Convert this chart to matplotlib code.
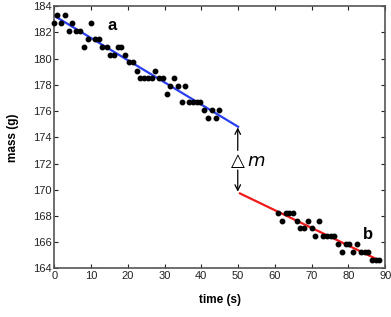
import numpy as np
import matplotlib
matplotlib.use('Agg')
import matplotlib.pyplot as plt

# Segment a (before the change)
t_a = [0.0, 0.8, 1.8, 2.9, 4.0, 4.9, 5.9, 7.0, 8.0, 9.1, 10.1, 11.1, 12.2, 13.1,
       14.2, 15.2, 16.2, 17.3, 18.2, 19.3, 20.3, 21.3, 22.4, 23.3, 24.4, 25.4,
       26.5, 27.5, 28.6, 29.6, 30.6, 31.6, 32.6, 33.6, 34.7, 35.6, 36.7, 37.7,
       38.7, 39.7, 40.7, 41.7, 42.8, 43.9, 44.9]
m_a = [182.68, 183.31, 182.68, 183.31, 182.09, 182.68, 182.09, 182.09, 180.90,
       181.48, 182.68, 181.48, 181.48, 180.90, 180.90, 180.30, 180.30, 180.90,
       180.90, 180.30, 179.70, 179.70, 179.07, 178.50, 178.50, 178.50, 178.50,
       179.07, 178.50, 178.50, 177.30, 177.90, 178.50, 177.90, 176.70, 177.90,
       176.70, 176.70, 176.70, 176.70, 176.07, 175.50, 176.07, 175.50, 176.07]

# Segment b (after the change)
t_b = [60.8, 61.9, 62.9, 63.9, 65.0, 66.0, 66.9, 68.0, 69.0, 70.1, 71.0, 72.1,
       73.1, 74.1, 75.2, 76.2, 77.2, 78.3, 79.3, 80.3, 81.3, 82.3, 83.4, 84.4,
       85.4, 86.4, 87.5, 88.4]
m_b = [168.25, 167.64, 168.25, 168.25, 168.25, 167.64, 167.06, 167.06, 167.64,
       167.06, 166.47, 167.64, 166.47, 166.47, 166.47, 166.47, 165.86, 165.25,
       165.86, 165.86, 165.25, 165.86, 165.25, 165.25, 165.25, 164.66, 164.66,
       164.66]

# Fitted lines (end points)
fit_a_t = [0, 50]
fit_a_m = [183.25, 174.8]
fit_b_t = [50.5, 88.6]
fit_b_m = [169.72, 164.59]

plt.rcParams['font.family'] = ['Liberation Sans', 'DejaVu Sans']
plt.rcParams['mathtext.fontset'] = 'dejavusans'

fig = plt.figure(figsize=(3.91, 3.17), dpi=100)
ax = fig.add_axes([0.139, 0.153, 0.846, 0.828])

ax.plot(fit_a_t, fit_a_m, color='#2a3ff0', lw=1.6, zorder=2)
ax.plot(fit_b_t, fit_b_m, color='#f01a1a', lw=1.6, zorder=2)
ax.plot(t_a, m_a, 'o', color='black', ms=3.2, zorder=3, clip_on=False)
ax.plot(t_b, m_b, 'o', color='black', ms=3.2, zorder=3, clip_on=False)

ax.text(15.6, 182.5, 'a', fontsize=12, fontweight='bold', ha='center', va='center')
ax.text(85.4, 166.6, 'b', fontsize=12, fontweight='bold', ha='center', va='center')

# Delta m arrows
arrow = dict(arrowstyle='->', color='black', lw=0.9, shrinkA=0, shrinkB=0)
ax.annotate('', xy=(49.9, 174.75), xytext=(49.9, 173.0), arrowprops=arrow)
ax.annotate('', xy=(49.9, 169.85), xytext=(49.9, 171.5), arrowprops=arrow)
ax.text(52.4, 172.2, r'$\triangle m$', fontsize=13, ha='center', va='center')

ax.set_xlim(0, 90)
ax.set_ylim(164, 184)
ax.set_xticks(np.arange(0, 91, 10))
ax.set_yticks(np.arange(164, 185, 2))
ax.tick_params(direction='in', top=True, right=True, length=3, width=0.8,
               labelsize=8, colors='#222222', pad=2)
for s in ax.spines.values():
    s.set_color('#555555')
    s.set_linewidth(1.2)

ax.set_xlabel('time (s)', fontsize=8.5, fontweight='bold', labelpad=9)
ax.set_ylabel('mass (g)', fontsize=8.5, fontweight='bold', labelpad=10)

fig.savefig('out.png', dpi=100)
